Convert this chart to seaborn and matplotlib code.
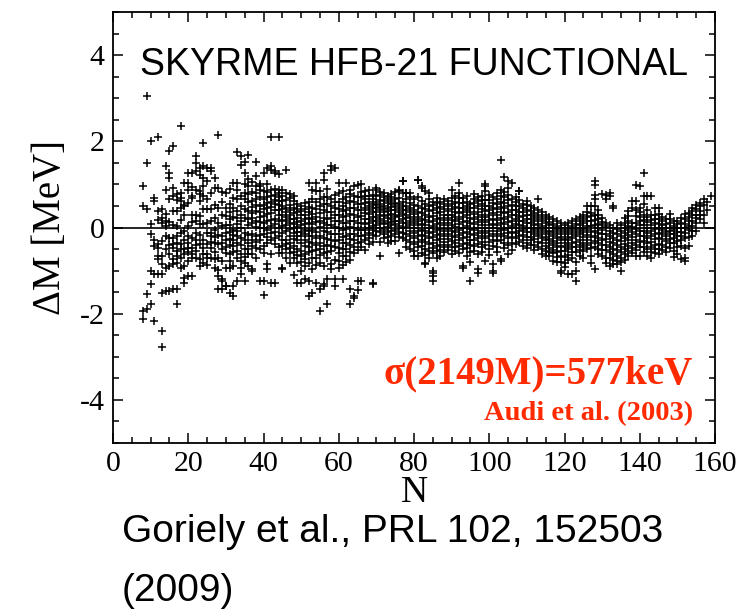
import matplotlib
matplotlib.use("Agg")
import matplotlib.pyplot as plt
from matplotlib.ticker import MultipleLocator
import seaborn as sns
import pandas as pd

# ---- data: mass differences dM [MeV] read per neutron number N ----
block_08_20 = {
    8: [0.96, 0.49, -1.94, -2.13],
    9: [3.04, 1.50, 0.42, -1.55, -1.90],
    10: [2.00, -0.16, -1.32, -1.78, -1.01, 0.07],
    11: [0.69, 0.61, -0.28, -1.09, -2.17, -0.43],
    12: [2.11, 0.38, -0.39, -0.74, -0.47, -0.66, -1.09, 0.18],
    13: [0.42, 0.22, 0.11, -0.85, -0.66, -1.51, -2.40, -2.78, -1.09, -0.31],
    14: [1.42, 0.88, 0.15, 0.03, -0.51, -0.20, -1.47, -0.93, 0.31],
    15: [1.77, 1.27, 1.15, 0.65, -0.24, -0.62, -0.89, -1.47, 0.12, -0.41],
    16: [1.88, 0.73, 0.38, -0.24, -0.39, -0.85, -0.74, -0.47, 0.92, 0.06, -1.43],
    17: [0.77, 0.38, -0.35, -0.82, -1.43, -1.78, -0.20, -0.55, 0.63, 0.04, -0.67],
    18: [2.36, 0.80, 0.69, 0.61, 0.46, -0.39, -0.93, -0.51, 0.18, -0.13, -0.71],
    19: [0.49, 0.30, 0.53, -0.51, -1.17, -1.28, -0.89, -0.28, 1.03, -0.07, -0.62],
    20: [1.03, 1.26, 0.57, 0.03, -0.58, -0.20, -0.78, -1.13, -0.35, 0.86, -0.47],
}
block_21_30 = {
    21: [1.26, 0.69, 0.73, 0.30, -0.62, -0.70, -1.13, -0.47, 0.12, -0.24, 0.94],
    22: [1.65, 1.50, 0.30, 0.15, -0.28, -0.55, -0.70, -0.12, 0.88, 1.31, -0.41],
    23: [1.38, 0.77, 0.61, 0.84, 0.26, 0.07, -0.39, -0.74, -0.89, 1.21, -0.17],
    24: [1.42, 1.15, 1.96, 0.73, 0.42, 0.07, -0.47, -0.82, -0.28, 0.96, -0.61],
    25: [1.07, 0.42, 0.11, -0.12, -0.39, -0.62, -0.70, 1.38, 0.67, -0.88],
    26: [1.38, 1.30, 0.42, -0.12, -0.47, -0.70, -0.20, 0.81, 0.14, -0.33],
    27: [1.15, 0.22, 0.92, -0.35, -0.58, -0.74, -0.93, 0.53, -0.06, -0.21],
    28: [2.15, 0.92, 0.10, -0.39, -0.70, -1.13, -1.43, 0.45, -0.17, -0.98],
    29: [0.60, 0.30, -0.20, -0.50, -0.78, -1.20, -1.24, -1.43, 0.04, -0.36, 0.83],
    30: [0.80, 0.45, 0.05, -0.30, -0.60, -1.35, -1.36, -0.93, 0.27, -0.13, -0.46],
}
block_31_43 = {
    31: [0.55, 0.20, -0.10, -0.40, -0.62, -0.95, -1.51, 0.90, 0.37, -0.27, -0.78, 0.06],
    32: [1.03, 0.46, 0.25, -0.05, -0.30, -0.58, -0.89, -1.35, -1.59, 0.68, -0.17, -0.44],
    33: [1.76, 1.03, 0.65, 0.38, 0.07, -0.20, -0.55, -0.70, -1.24, 0.22, -0.37, 0.87, -0.09],
    34: [1.65, 1.45, 0.73, 0.30, 0.00, -0.25, -0.62, -0.78, -0.93, 0.51, -0.41, 0.14, -1.09],
    35: [1.53, 1.26, 1.00, 0.65, 0.22, -0.12, -0.30, -0.50, -0.82, -1.24, 0.43, 0.81, -0.68],
    36: [1.69, 0.96, 0.60, 0.20, 0.05, -0.35, -0.62, -0.89, 0.38, 0.77, -0.18, -0.49, 1.12],
    37: [1.05, 0.61, 0.34, 0.11, -0.15, -0.43, -0.97, -1.00, 0.83, 0.47, -0.29, -0.61, 0.21],
    38: [1.53, 1.19, 0.80, 0.38, 0.15, -0.20, -0.47, -0.70, 0.52, 0.96, 0.02, -0.33, 0.66],
    39: [1.00, 0.96, 0.88, 0.50, 0.25, 0.00, -0.30, -0.51, -1.24, 0.71, 0.37, -0.17, 0.13],
    40: [1.26, 0.53, 0.85, 0.42, 0.10, -0.15, -0.43, -0.60, -1.24, -1.57, 0.67, 0.26, -0.02],
    41: [1.38, 1.00, 0.70, 0.46, 0.15, -0.05, -0.35, -0.97, -0.85, 0.58, 0.83, 0.31, -0.21],
    42: [2.11, 1.42, 1.34, 0.88, 0.60, 0.34, 0.03, -0.28, -0.62, -1.28, 0.73, 0.47, 0.17, -0.12],
    43: [1.26, 1.30, 0.90, 0.76, 0.55, 0.20, -0.10, -0.39, -1.28, 0.64, 0.41, 0.07, -0.24],
}
block_44_56 = {
    44: [2.11, 1.23, 0.88, 0.70, 0.53, 0.30, 0.00, -0.20, -0.45, -0.60, 0.79, 0.62, 0.41, 0.14],
    45: [0.73, 0.61, 0.42, 0.18, -0.12, -0.30, -0.60, -0.97, -0.93, 0.86, 0.51, 0.29, 0.04, -0.44],
    46: [1.34, 0.80, 0.46, 0.25, 0.05, -0.28, -0.50, 0.63, 0.36, 0.14, -0.09, -0.38, -0.71],
    47: [0.69, 0.53, 0.30, 0.10, -0.20, -0.35, -0.60, 0.77, 0.41, 0.19, -0.04, -0.47, -0.83],
    48: [0.61, 0.45, 0.20, 0.00, -0.12, -0.43, -0.70, -1.10, 0.33, 0.09, -0.26, -0.57, 0.72],
    49: [0.55, 0.35, 0.12, -0.10, -0.30, -0.51, -0.82, -1.28, 0.44, 0.21, -0.19, -0.63, 0.02],
    50: [0.50, 0.30, 0.05, -0.20, -0.55, -0.80, -1.00, -1.28, 0.39, 0.14, -0.11, -0.37, -0.67],
    51: [0.42, 0.20, -0.05, -0.28, -0.62, -0.90, -1.20, 0.57, 0.29, 0.07, -0.16, -0.44, -0.74],
    52: [1.03, 0.60, 0.35, 0.10, -0.20, -0.45, -0.82, -1.24, -1.59, 0.47, 0.22, -0.07, -0.33, -0.58],
    53: [0.88, 0.45, 0.20, -0.05, -0.35, -0.55, -0.97, -1.51, 0.66, 0.31, 0.08, -0.19, -0.71],
    54: [1.03, 0.84, 0.60, 0.25, -0.10, -0.40, -0.70, -1.28, 0.43, 0.12, -0.24, -0.53, -0.86],
    55: [0.84, 0.50, 0.15, -0.20, -0.50, -0.82, -1.43, -1.93, 0.66, 0.33, 0.02, -0.36, -0.64],
    56: [1.27, 1.11, 0.70, 0.40, 0.10, -0.25, -0.60, -0.90, -1.36, -1.32, 0.54, 0.23, -0.08, -0.43],
}
block_57_69 = {
    57: [0.90, 0.55, 0.20, -0.10, -0.40, -0.70, -1.20, -1.78, 0.71, 0.37, 0.06, -0.27, -0.56],
    58: [1.42, 1.34, 0.65, 0.35, 0.05, -0.30, -0.55, -0.85, 0.49, 0.21, -0.14, -0.42, -0.97],
    59: [1.38, 0.75, 0.45, 0.15, -0.15, -0.45, -0.75, -1.20, -1.36, 0.59, 0.29, 0.01, -0.31],
    60: [1.03, 0.60, 0.30, 0.00, -0.30, -0.60, -0.95, 0.79, 0.44, 0.16, -0.16, -0.47, -0.78],
    61: [0.85, 0.50, 0.25, -0.05, -0.35, -0.65, -1.20, 0.67, 0.38, 0.11, -0.21, -0.49, -0.87],
    62: [1.03, 0.70, 0.40, 0.10, -0.20, -0.50, -0.80, 0.56, 0.26, -0.04, -0.36, -0.66],
    63: [0.88, 0.77, 0.45, 0.15, -0.15, -0.40, -0.75, -1.78, -1.43, 0.61, 0.31, 0.02, -0.27, -0.58],
    64: [0.96, 0.60, 0.30, 0.00, -0.30, -0.60, -1.63, -1.59, 0.74, 0.45, 0.16, -0.14, -0.45],
    65: [0.98, 0.55, 0.25, -0.05, -0.35, -1.24, -1.44, 0.71, 0.41, 0.11, -0.19, -0.52],
    66: [1.00, 0.70, 0.40, 0.10, -0.20, -0.45, -1.24, 0.83, 0.54, 0.26, -0.06, -0.33],
    67: [0.84, 0.65, 0.45, 0.20, -0.05, -0.30, 0.74, 0.56, 0.33, 0.09, -0.17, -0.52],
    68: [0.88, 0.60, 0.40, 0.20, 0.00, -0.25, 0.73, 0.51, 0.31, 0.10, -0.12, -0.38],
    69: [0.75, 0.55, 0.35, 0.15, -0.05, -1.28, -1.32, 0.66, 0.46, 0.25, 0.04, -0.17, -0.33],
}
block_70_84 = {
    70: [0.88, 0.92, 0.60, 0.45, 0.25, 0.05, -0.20, 0.72, 0.53, 0.36, 0.15, -0.07],
    71: [0.75, 0.55, 0.40, 0.20, 0.00, -0.66, 0.83, 0.64, 0.47, 0.29, 0.10, -0.11, -0.34],
    72: [0.70, 0.50, 0.35, 0.15, -0.05, -0.25, 0.79, 0.61, 0.43, 0.26, 0.07, -0.15],
    73: [0.65, 0.45, 0.30, 0.10, -0.10, -0.35, 0.74, 0.56, 0.38, 0.21, 0.02, -0.21],
    74: [0.70, 0.55, 0.40, 0.20, 0.05, -0.20, 0.77, 0.62, 0.47, 0.31, 0.13, -0.07, -0.31],
    75: [0.65, 0.50, 0.30, 0.15, -0.05, -0.32, 0.83, 0.58, 0.41, 0.24, 0.07, -0.14],
    76: [0.84, 0.88, 0.55, 0.35, 0.15, -0.10, -0.60, 0.69, 0.46, 0.26, 0.04, -0.23],
    77: [1.07, 1.08, 0.60, 0.40, 0.20, 0.00, -0.25, 0.79, 0.51, 0.31, 0.11, -0.12],
    78: [0.80, 0.80, 0.50, 0.30, 0.10, -0.15, -0.45, 0.66, 0.41, 0.21, 0.01, -0.29],
    79: [0.70, 0.45, 0.25, 0.05, -0.20, -0.50, 0.58, 0.36, 0.16, -0.07, -0.33, 0.81],
    80: [0.65, 0.40, 0.20, 0.00, -0.25, -0.55, 0.53, 0.31, 0.11, -0.12, -0.39, -0.66],
    81: [1.11, 1.11, 0.50, 0.25, 0.05, -0.20, -0.45, -0.66, 0.71, 0.37, 0.14, -0.08, -0.33],
    82: [0.96, 0.92, 0.45, 0.20, -0.05, -0.30, -0.60, 0.61, 0.33, 0.09, -0.17, -0.42],
    83: [0.84, 0.55, 0.30, 0.05, -0.20, -0.50, -0.82, -0.85, 0.43, 0.17, -0.07, -0.34, -0.63],
    84: [0.80, 0.50, 0.25, 0.00, -0.25, -0.55, 0.66, 0.38, 0.12, -0.13, -0.39, -0.71],
}
block_85_99 = {
    85: [0.60, 0.40, 0.15, -0.10, -0.35, -0.60, -1.00, -1.05, -1.12, -1.24, 0.52, 0.27, 0.03, -0.22, -0.47],
    86: [0.69, 0.45, 0.20, -0.05, -0.30, -0.55, 0.57, 0.33, 0.08, -0.17, -0.42, -0.71],
    87: [0.60, 0.35, 0.10, -0.15, -0.40, -0.65, 0.48, 0.23, -0.03, -0.27, -0.52],
    88: [0.54, 0.30, 0.05, -0.20, -0.45, 0.43, 0.17, -0.08, -0.33, -0.58, 0.66],
    89: [0.50, 0.30, 0.10, -0.15, -0.40, 0.61, 0.39, 0.21, -0.03, -0.27, -0.52],
    90: [0.88, 0.55, 0.30, 0.05, -0.20, -0.45, 0.69, 0.42, 0.17, -0.08, -0.32, -0.61],
    91: [0.60, 0.35, 0.15, -0.10, -0.35, -0.55, 0.73, 0.47, 0.24, 0.02, -0.22, -0.46],
    92: [1.03, 0.69, 0.45, 0.20, -0.05, -0.30, -0.60, 0.81, 0.57, 0.33, 0.08, -0.17, -0.43],
    93: [0.69, 0.45, 0.25, 0.00, -0.25, -0.50, -0.89, -0.93, 0.57, 0.36, 0.12, -0.13, -0.38],
    94: [0.60, 0.40, 0.15, -0.10, -0.35, -0.65, 0.51, 0.28, 0.03, -0.22, -0.47, 0.74],
    95: [0.55, 0.35, 0.10, -0.15, -0.40, -0.81, -1.24, 0.46, 0.22, -0.03, -0.28, -0.56],
    96: [0.65, 0.45, 0.20, -0.05, -0.30, -0.55, 0.56, 0.32, 0.08, -0.18, -0.42, 0.77],
    97: [0.70, 0.50, 0.25, 0.00, -0.25, -0.97, -1.05, 0.61, 0.37, 0.13, -0.12, -0.38, -0.62],
    98: [0.73, 0.55, 0.30, 0.05, -0.20, -0.45, 0.64, 0.42, 0.17, -0.07, -0.33, -0.58],
    99: [1.00, 0.96, 0.84, 0.50, 0.25, 0.00, -0.25, -0.77, 0.63, 0.38, 0.13, -0.12, -0.41],
}
block_100_114 = {
    100: [0.75, 0.50, 0.30, 0.05, -0.20, -0.50, 0.63, 0.41, 0.17, -0.07, -0.33, -0.64],
    101: [0.70, 0.45, 0.20, 0.00, -0.30, -0.85, -1.00, -1.05, 0.58, 0.33, 0.09, -0.14, -0.43],
    102: [0.80, 0.55, 0.30, 0.05, -0.20, -0.45, 0.67, 0.43, 0.18, -0.08, -0.32, -0.58],
    103: [1.57, 0.88, 0.60, 0.35, 0.10, -0.15, -0.74, -0.77, 0.73, 0.47, 0.22, -0.03, -0.29],
    104: [1.17, 0.70, 0.45, 0.20, -0.05, -0.35, 0.82, 0.57, 0.33, 0.08, -0.19, -0.47],
    105: [1.07, 0.75, 0.50, 0.25, 0.00, -0.25, -0.62, 0.91, 0.63, 0.37, 0.12, -0.13, -0.41],
    106: [1.03, 0.65, 0.40, 0.15, -0.10, -0.35, 0.53, 0.28, 0.03, -0.23, -0.52],
    107: [0.60, 0.40, 0.20, 0.00, -0.25, 0.71, 0.49, 0.29, 0.09, -0.13, -0.38],
    108: [0.84, 0.84, 0.50, 0.25, 0.05, -0.20, 0.63, 0.37, 0.14, -0.08, -0.33],
    109: [0.55, 0.35, 0.15, -0.05, -0.30, 0.46, 0.26, 0.04, -0.17, -0.43],
    110: [0.61, 0.53, 0.30, 0.10, -0.10, -0.35, 0.41, 0.19, -0.01, -0.22, -0.47],
    111: [0.50, 0.30, 0.10, -0.10, -0.30, 0.39, 0.19, -0.02, -0.21, -0.41],
    112: [0.45, 0.25, 0.05, -0.15, -0.40, 0.34, 0.14, -0.06, -0.27, -0.52],
    113: [0.65, 0.40, 0.20, 0.00, -0.20, -0.45, 0.29, 0.08, -0.11, -0.33],
    114: [0.35, 0.15, -0.05, -0.25, -0.50, 0.24, 0.03, -0.16, -0.37, -0.62],
}
block_115_129 = {
    115: [0.30, 0.10, -0.10, -0.30, -0.55, 0.19, -0.02, -0.21, -0.42, -0.67],
    116: [0.25, 0.05, -0.15, -0.35, -0.66, 0.13, -0.07, -0.26, -0.47, -0.58],
    117: [0.20, 0.00, -0.20, -0.40, -0.60, -0.78, 0.09, -0.11, -0.31, -0.52],
    118: [0.15, -0.05, -0.25, -0.45, -0.81, 0.04, -0.16, -0.36, -0.57, -0.69],
    119: [0.10, -0.10, -0.30, -0.55, -0.80, -1.00, -1.05, -0.02, -0.21, -0.42, -0.66],
    120: [0.05, -0.15, -0.35, -0.55, -0.82, -0.06, -0.26, -0.46, -0.69, -0.91],
    121: [0.10, -0.10, -0.30, -0.50, -0.75, -1.09, -0.02, -0.21, -0.41, -0.63],
    122: [0.15, -0.05, -0.25, -0.45, -0.70, -1.09, 0.04, -0.16, -0.36, -0.58],
    123: [0.20, 0.00, -0.20, -0.45, -1.01, -1.24, 0.09, -0.11, -0.33, -0.56, -0.79],
    124: [0.25, 0.05, -0.15, -0.40, -0.65, 0.14, -0.06, -0.28, -0.52],
    125: [0.30, 0.10, -0.10, -0.35, -0.55, 0.19, -0.01, -0.23, -0.46, -0.71],
    126: [0.49, 0.35, 0.15, -0.05, -0.30, -0.50, 0.24, 0.04, -0.18, -0.41],
    127: [0.50, 0.34, 0.15, -0.10, -0.35, -0.66, -0.82, 0.26, 0.03, -0.22, -0.47],
    128: [1.07, 0.99, 0.76, 0.65, 0.30, 0.05, -0.20, -0.45, -0.97, 0.51, 0.17, -0.07, -0.31],
    129: [0.40, 0.20, 0.00, -0.25, -0.50, 0.28, 0.09, -0.13, -0.37, -0.61],
}
block_130_144 = {
    130: [0.22, 0.05, -0.15, -0.40, -0.65, 0.77, 0.13, -0.06, -0.28, -0.53],
    131: [0.76, 0.65, 0.10, -0.15, -0.40, -0.82, 0.02, -0.27, -0.52, -0.71],
    132: [0.80, 0.73, 0.05, -0.20, -0.45, -0.70, -0.89, -0.08, -0.33, -0.58],
    133: [0.46, 0.00, -0.25, -0.50, -0.75, -0.85, -0.12, -0.37, -0.62, 0.49],
    134: [0.10, -0.15, -0.40, -0.65, -0.85, -0.03, -0.28, -0.53, -0.77],
    135: [0.05, -0.20, -0.45, -0.70, -1.01, -0.07, -0.32, -0.57, -0.81],
    136: [0.22, 0.00, -0.25, -0.50, -0.75, 0.11, -0.13, -0.38, -0.62],
    137: [0.38, 0.15, -0.05, -0.30, -0.55, 0.27, 0.04, -0.18, -0.42, -0.66],
    138: [0.61, 0.11, -0.10, -0.35, -0.60, 0.46, 0.01, -0.23, -0.47],
    139: [0.99, 0.40, 0.10, -0.15, -0.40, -0.65, 0.61, 0.27, -0.03, -0.28, -0.53],
    140: [0.46, 0.25, 0.05, -0.20, -0.45, -0.66, 0.96, 0.36, 0.14, -0.09, -0.33],
    141: [1.26, 0.72, 0.30, 0.05, -0.20, -0.45, 0.54, 0.18, -0.07, -0.31, -0.58],
    142: [0.72, 0.25, 0.00, -0.25, -0.50, 0.41, 0.12, -0.13, -0.37, -0.66],
    143: [0.73, 0.30, 0.05, -0.20, -0.45, -0.70, 0.17, -0.08, -0.33, -0.57],
    144: [0.30, 0.10, -0.15, -0.40, -0.60, 0.46, 0.19, -0.03, -0.27, -0.51],
}
block_145_159 = {
    145: [0.46, 0.20, 0.00, -0.25, -0.62, 0.32, 0.09, -0.13, -0.38, -0.51],
    146: [0.25, 0.05, -0.15, -0.40, 0.14, -0.06, -0.27, -0.53],
    147: [0.19, 0.00, -0.20, -0.45, 0.09, -0.11, -0.32, -0.58],
    148: [0.20, 0.00, -0.15, -0.35, 0.31, 0.11, -0.07, -0.26, -0.47],
    149: [0.15, -0.05, -0.25, -0.55, 0.04, -0.16, -0.37, -0.68],
    150: [0.15, 0.00, -0.20, -0.45, -0.62, 0.08, -0.11, -0.31],
    151: [0.10, -0.10, -0.30, -0.74, 0.21, -0.02, -0.19, -0.42],
    152: [0.20, 0.00, -0.25, -0.70, -0.77, 0.32, 0.09, -0.13, -0.47],
    153: [0.34, 0.15, -0.05, -0.43, 0.24, 0.04, -0.21],
    154: [0.46, 0.30, 0.03, -0.20, 0.38, 0.14, -0.07],
    155: [0.53, 0.30, 0.10, -0.08, 0.43, 0.21],
    156: [0.49, 0.30, 0.19, 0.58, 0.39],
    157: [0.65, 0.30, 0.10, 0.52],
    158: [0.60, 0.40],
    159: [0.73],
}

x_ticks = [0, 20, 40, 60, 80, 100, 120, 140, 160]
y_ticks = [-4, -2, 0, 2, 4]

title_text = "SKYRME HFB-21 FUNCTIONAL"
sigma_text = "σ(2149M)=577keV"
source_text = "Audi et al. (2003)"
caption_line1 = "Goriely et al., PRL 102, 152503"
caption_line2 = "(2009)"

blocks = [block_08_20, block_21_30, block_31_43, block_44_56, block_57_69,
          block_70_84, block_85_99, block_100_114, block_115_129,
          block_130_144, block_145_159]
rows = []
for blk in blocks:
    for n, vals in blk.items():
        for v in vals:
            rows.append((n, v))
df = pd.DataFrame(rows, columns=["N", "dM"])

# ---- style ----
sns.set_style("ticks")
plt.rcParams["font.family"] = ["Liberation Serif", "DejaVu Serif"]
plt.rcParams["axes.linewidth"] = 1.3
plt.rcParams["axes.unicode_minus"] = False
plt.rcParams["text.color"] = "black"
plt.rcParams["axes.labelcolor"] = "black"
plt.rcParams["xtick.color"] = "black"
plt.rcParams["ytick.color"] = "black"

fig = plt.figure(figsize=(7.56, 6.12), dpi=100)
ax = fig.add_axes([113 / 756, 1 - 443 / 612, 602 / 756, 431 / 612])

ax.axhline(0, color="black", lw=1.2, zorder=1)
sns.scatterplot(data=df, x="N", y="dM", marker="+", color="black",
                s=34, linewidth=1.1, ax=ax, legend=False, zorder=2)

ax.set_xlim(0, 160)
ax.set_ylim(-5, 5)
ax.set_xticks(x_ticks)
ax.set_yticks(y_ticks)
ax.xaxis.set_minor_locator(MultipleLocator(5))
ax.yaxis.set_minor_locator(MultipleLocator(0.5))
ax.tick_params(which="both", direction="in", top=True, right=True,
               width=1.1, colors="black")
ax.tick_params(which="major", length=7, labelsize=21.5, pad=6)
ax.tick_params(which="minor", length=4)
for sp in ax.spines.values():
    sp.set_color("black")

ax.set_xlabel("N", fontsize=27, labelpad=-1)
ax.set_ylabel("ΔM [MeV]", fontsize=28, labelpad=8)

ax.text(0.045, 0.877, title_text, transform=ax.transAxes,
        fontsize=27, family=["Liberation Sans", "DejaVu Sans"],
        ha="left", va="center", color="black")
ax.text(0.963, 0.160, sigma_text, transform=ax.transAxes,
        fontsize=28, fontweight="bold", color="#ff2a00",
        ha="right", va="center")
ax.text(0.963, 0.068, source_text, transform=ax.transAxes,
        fontsize=20.5, fontweight="bold", color="#ff2a00",
        ha="right", va="center")

fig.text(122 / 756, 1 - 532 / 612, caption_line1, fontsize=28, color="black",
         family=["Liberation Sans", "DejaVu Sans"], ha="left", va="center")
fig.text(122 / 756, 1 - 591 / 612, caption_line2, fontsize=28, color="black",
         family=["Liberation Sans", "DejaVu Sans"], ha="left", va="center")

fig.savefig("out.png", dpi=100)
